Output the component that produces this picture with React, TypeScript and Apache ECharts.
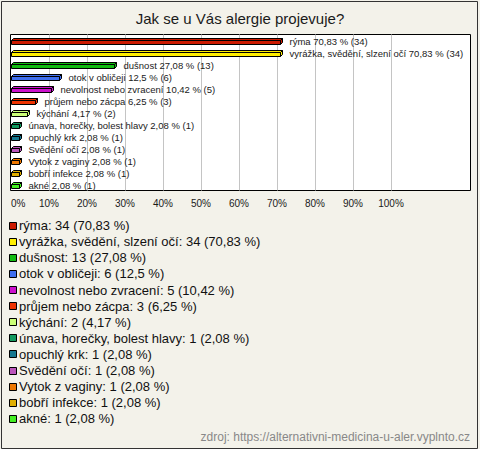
import React, { useEffect, useRef } from "react";
import * as echarts from "echarts";

const titleText = "Jak se u Vás alergie projevuje?";
const sourceText = "zdroj: https://alternativni-medicina-u-aler.vyplnto.cz";
const categories = [
  "rýma",
  "vyrážka, svědění, slzení očí",
  "dušnost",
  "otok v obličeji",
  "nevolnost nebo zvracení",
  "průjem nebo zácpa",
  "kýchání",
  "únava, horečky, bolest hlavy",
  "opuchlý krk",
  "Svědění očí",
  "Vytok z vaginy",
  "bobří infekce",
  "akné",
];
const counts = [34, 34, 13, 6, 5, 3, 2, 1, 1, 1, 1, 1, 1];
const percents = [70.83, 70.83, 27.08, 12.5, 10.42, 6.25, 4.17, 2.08, 2.08, 2.08, 2.08, 2.08, 2.08];
const xTickValues = [0, 10, 20, 30, 40, 50, 60, 70, 80, 90, 100];

const colors = [
  "#cc1a00",
  "#ffee00",
  "#11bb11",
  "#3f6fee",
  "#cc11cc",
  "#ee3300",
  "#ccff77",
  "#11995e",
  "#15778f",
  "#bb55bb",
  "#ee7700",
  "#e0ae00",
  "#44ee22",
];

const FONT = "'Liberation Sans', Arial, sans-serif";
const fmt = (v: number) => String(v).replace(".", ",");

export default function App() {
  const ref = useRef<HTMLDivElement>(null);
  useEffect(() => {
    document.body.style.margin = "0";
    const chart = echarts.init(ref.current!, null, { renderer: "svg" });

    const legendGraphics: any[] = [];
    categories.forEach((c, i) => {
      const cy = 225.6 + 16.1 * i;
      legendGraphics.push({
        type: "rect",
        shape: { x: 9.5, y: Math.round(cy) - 3.5, width: 7, height: 7 },
        style: { fill: colors[i], stroke: "#000", lineWidth: 1 },
      });
      legendGraphics.push({
        type: "text",
        x: 19,
        y: cy,
        style: {
          text: `${c}: ${counts[i]} (${fmt(percents[i])} %)`,
          fill: "#111",
          fontSize: 13,
          fontFamily: FONT,
          verticalAlign: "middle",
          align: "left",
        },
      });
    });

    const option: any = {
      animation: false,
      backgroundColor: "#f3f2ea",
      title: {
        text: titleText,
        left: "center",
        top: 11,
        padding: 0,
        textStyle: { fontSize: 15, fontWeight: "normal", color: "#1a1a1a", fontFamily: FONT },
      },
      grid: { left: 11, width: 380, top: 34.5, height: 156 },
      xAxis: {
        type: "value",
        min: xTickValues[0],
        max: xTickValues[xTickValues.length - 1],
        interval: 10,
        axisLine: { show: false },
        axisTick: { show: false },
        axisLabel: {
          formatter: "{value}%",
          fontSize: 10,
          color: "#1a1a1a",
          fontFamily: FONT,
          margin: 8,
          alignMinLabel: "left",
        },
        splitLine: { show: true, showMinLine: false, lineStyle: { color: "#c4c4c4", width: 1 } },
      },
      yAxis: {
        type: "category",
        data: categories,
        inverse: true,
        axisLine: { show: false },
        axisTick: { show: false },
        axisLabel: { show: false },
        splitLine: { show: false },
      },
      graphic: [
        {
          type: "rect",
          z: -10,
          shape: { x: 1.5, y: 1.5, width: 476, height: 447 },
          style: { fill: "#f3f2ea", stroke: "#333", lineWidth: 1 },
        },
        {
          type: "rect",
          z: -5,
          shape: { x: 10.5, y: 34.5, width: 460, height: 156 },
          style: { fill: "#ffffff", stroke: "#000", lineWidth: 1 },
        },
        {
          type: "text",
          right: 10,
          top: 431,
          style: { text: sourceText, fill: "#888", fontSize: 12, fontFamily: FONT },
        },
        ...legendGraphics,
      ],
      series: [
        {
          type: "custom",
          data: categories.map((c, i) => [percents[i], i]),
          encode: { x: 0, y: 1 },
          renderItem: (params: any, api: any) => {
            const v = api.value(0);
            const idx = api.value(1);
            const s = api.coord([0, idx]);
            const e = api.coord([v, idx]);
            const c = s[1];
            const x0 = Math.round(s[0]) + 0.5;
            const x1 = Math.round(e[0]) + 0.5;
            const yt = Math.round(c - 1) + 0.5;
            const yb = yt + 4;
            const d = 2;
            const col = colors[idx];
            const st = { fill: col, stroke: "#000", lineWidth: 1 };
            return {
              type: "group",
              children: [
                {
                  type: "polygon",
                  shape: { points: [[x0, yt], [x0 + d, yt - d], [x1 + d, yt - d], [x1, yt]] },
                  style: st,
                },
                {
                  type: "polygon",
                  shape: { points: [[x1, yt], [x1 + d, yt - d], [x1 + d, yb - d], [x1, yb]] },
                  style: st,
                },
                {
                  type: "rect",
                  shape: { x: x0, y: yt, width: x1 - x0, height: yb - yt },
                  style: st,
                },
                {
                  type: "text",
                  x: x1 + d + 7,
                  y: c + 1,
                  style: {
                    text: `${categories[idx]} ${fmt(percents[idx])} % (${counts[idx]})`,
                    fill: "#1a1a1a",
                    fontSize: 9.5,
                    fontFamily: FONT,
                    verticalAlign: "middle",
                    align: "left",
                  },
                },
              ],
            };
          },
        },
      ],
    };
    chart.setOption(option);
    return () => chart.dispose();
  }, []);
  return (
    <div
      ref={ref}
      style={{ position: "absolute", left: 0, top: 0, width: 480, height: 449 }}
    />
  );
}
